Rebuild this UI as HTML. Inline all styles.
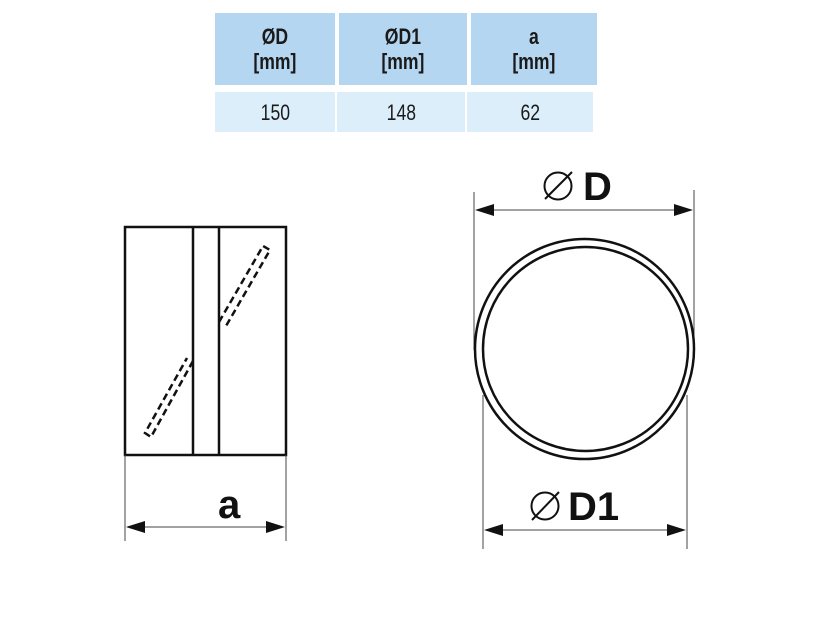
<!DOCTYPE html>
<html><head><style>
body{margin:0;background:#fff;width:834px;height:630px;overflow:hidden;position:relative;font-family:"Liberation Sans",sans-serif}
.c{position:absolute;display:flex;align-items:center;justify-content:center;text-align:center;color:#1a1a1a;font-size:22px;line-height:25px;font-weight:bold}
.h{background:#b5d6f1}
.r{background:#ddeefb;font-weight:normal}
.c span{display:inline-block;transform:scaleX(0.8)}
</style></head><body>
<div class="c h" style="left:215px;top:13px;width:120px;height:72px"><span>ØD<br>[mm]</span></div>
<div class="c h" style="left:339px;top:13px;width:128px;height:72px"><span>ØD1<br>[mm]</span></div>
<div class="c h" style="left:471px;top:13px;width:126px;height:72px"><span>a<br>[mm]</span></div>
<div class="c r" style="left:215px;top:92px;width:120px;height:40px"><span>150</span></div>
<div class="c r" style="left:337px;top:92px;width:128px;height:40px"><span>148</span></div>
<div class="c r" style="left:467px;top:92px;width:126px;height:40px"><span>62</span></div>
<svg width="834" height="630" style="position:absolute;left:0;top:0">
<g fill="none" stroke="#111">
<rect x="125" y="227" width="161" height="228" stroke-width="2.5"/>
<line x1="193" y1="227" x2="193" y2="455" stroke-width="2.5"/>
<line x1="219" y1="227" x2="219" y2="455" stroke-width="2.5"/>
<g stroke-width="2.5" stroke-dasharray="7,4">
<polyline points="193,361 151,437 145,433 187,358"/>
<polyline points="219,322 263,246 270,250 226,326"/>
</g>
<g stroke="#444" stroke-width="1">
<line x1="125" y1="455" x2="125" y2="541"/>
<line x1="286" y1="455" x2="286" y2="541"/>
<line x1="138" y1="527" x2="273" y2="527"/>
<line x1="474" y1="192" x2="474" y2="350"/>
<line x1="694" y1="190" x2="694" y2="350"/>
<line x1="488" y1="210" x2="680" y2="210"/>
<line x1="483" y1="395" x2="483" y2="549"/>
<line x1="687" y1="395" x2="687" y2="549"/>
<line x1="497" y1="530" x2="673" y2="530"/>
</g>
<ellipse cx="584.5" cy="349" rx="109.5" ry="110" stroke-width="2.5"/>
<ellipse cx="585.5" cy="349" rx="102.5" ry="102" stroke-width="2.5"/>
<circle cx="558" cy="186" r="13.5" stroke-width="2"/>
<line x1="545" y1="199" x2="572" y2="172" stroke-width="2"/>
<circle cx="545" cy="506" r="13.5" stroke-width="2"/>
<line x1="532" y1="520" x2="559" y2="492" stroke-width="2"/>
</g>
<g fill="#111">
<polygon points="126,527 145,521 145,533"/>
<polygon points="285,527 266,521 266,533"/>
<polygon points="475,210 494,204 494,216"/>
<polygon points="693,210 674,204 674,216"/>
<polygon points="484,530 503,524 503,536"/>
<polygon points="686,530 667,524 667,536"/>
</g>
<g font-family="Liberation Sans" font-weight="bold" fill="#111">
<text x="218" y="518" font-size="40">a</text>
<text x="583" y="200" font-size="40">D</text>
<text x="568" y="520" font-size="40">D1</text>
</g>
</svg>
</body></html>
